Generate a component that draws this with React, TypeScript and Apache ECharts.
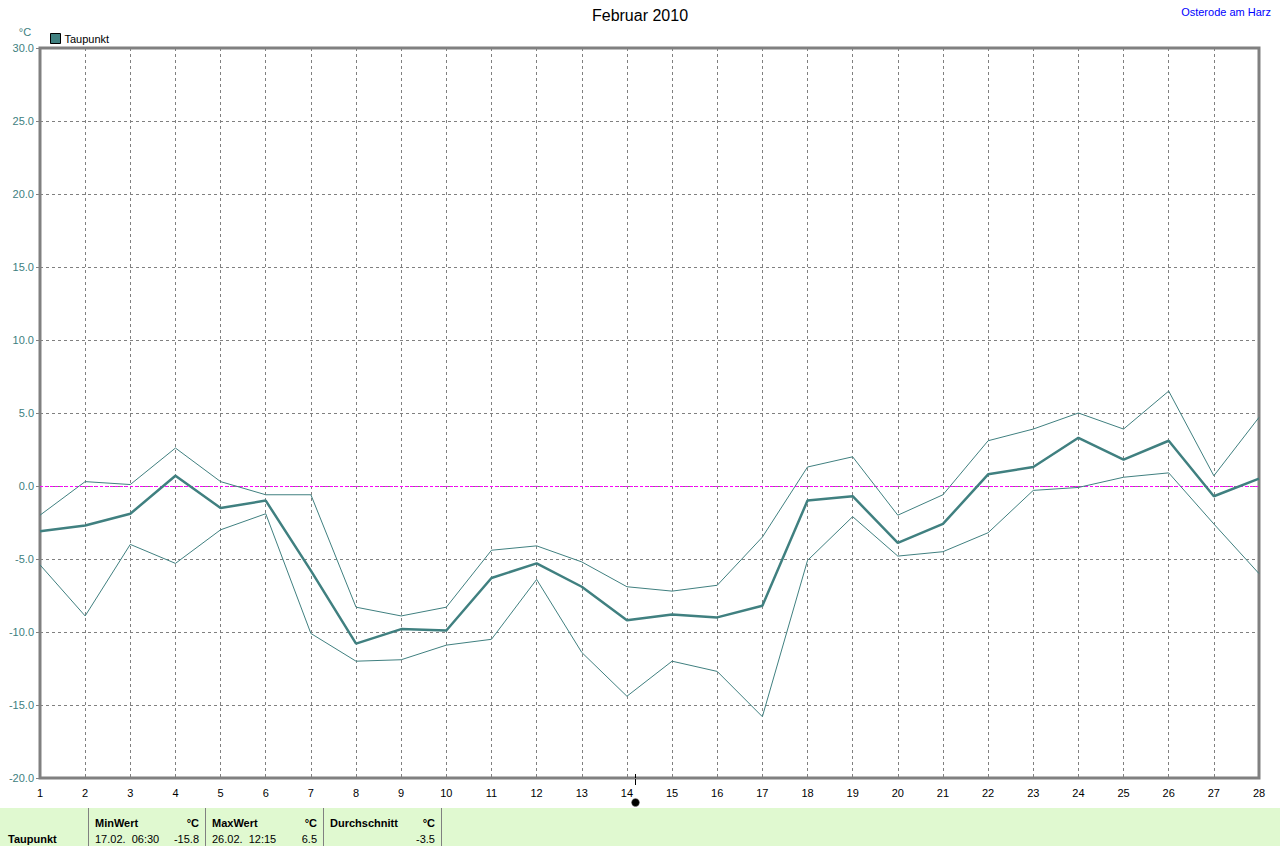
import React, { useEffect, useRef } from "react";
import * as echarts from "echarts";

const days = ["1","2","3","4","5","6","7","8","9","10","11","12","13","14","15","16","17","18","19","20","21","22","23","24","25","26","27","28"];
const taupunktMean = [-3.1, -2.7, -1.9, 0.7, -1.5, -1.0, -5.8, -10.8, -9.8, -9.9, -6.3, -5.3, -6.9, -9.2, -8.8, -9.0, -8.2, -1.0, -0.7, -3.9, -2.6, 0.8, 1.3, 3.3, 1.8, 3.1, -0.7, 0.5];
const taupunktMax = [-2.0, 0.3, 0.1, 2.6, 0.3, -0.6, -0.6, -8.3, -8.9, -8.3, -4.4, -4.1, -5.2, -6.9, -7.2, -6.8, -3.5, 1.3, 2.0, -2.0, -0.6, 3.1, 3.9, 5.0, 3.9, 6.5, 0.7, 4.7];
const taupunktMin = [-5.4, -8.9, -4.0, -5.3, -3.0, -1.9, -10.1, -12.0, -11.9, -10.9, -10.5, -6.4, -11.4, -14.4, -12.0, -12.7, -15.8, -5.1, -2.1, -4.8, -4.5, -3.2, -0.3, -0.1, 0.6, 0.9, -2.6, -6.0];
const tableHeaders = ["MinWert", "MaxWert", "Durchschnitt"];
const tableDates = ["17.02.  06:30", "26.02.  12:15", ""];
const tableValues = ["-15.8", "6.5", "-3.5"];

const TEAL = "#408080";
const FONT = "Liberation Sans, Arial, sans-serif";

export default function App() {
  const ref = useRef<HTMLDivElement>(null);
  useEffect(() => {
    if (!ref.current) return;
    const chart = echarts.init(ref.current, undefined, { renderer: "svg" });
    const colX = [88, 205, 323, 441];
    const tableGraphics: any[] = [
      { type: "rect", shape: { x: 0, y: 808, width: 1280, height: 38 }, style: { fill: "#e0f9d0" } },
      ...colX.map((x) => ({ type: "line", shape: { x1: x + 0.5, y1: 808, x2: x + 0.5, y2: 846 }, style: { stroke: "#808080", lineWidth: 1 } })),
      { type: "text", style: { text: "Taupunkt", x: 8, y: 839, font: `bold 11px ${FONT}`, fill: "#000", textVerticalAlign: "middle", verticalAlign: "middle" } },
    ];
    tableHeaders.forEach((h, i) => {
      const x0 = colX[i] + 7;
      const x1 = colX[i + 1] - 6;
      tableGraphics.push(
        { type: "text", style: { text: h, x: x0, y: 823, font: `bold 11px ${FONT}`, fill: "#000", textVerticalAlign: "middle", verticalAlign: "middle" } },
        { type: "text", style: { text: "°C", x: x1, y: 823, font: `bold 11px ${FONT}`, fill: "#000", textAlign: "right", align: "right", textVerticalAlign: "middle", verticalAlign: "middle" } },
        { type: "text", style: { text: tableDates[i], x: x0, y: 839, font: `11px ${FONT}`, fill: "#000", textVerticalAlign: "middle", verticalAlign: "middle" } },
        { type: "text", style: { text: tableValues[i], x: x1, y: 839, font: `11px ${FONT}`, fill: "#000", textAlign: "right", align: "right", textVerticalAlign: "middle", verticalAlign: "middle" } }
      );
    });

    chart.setOption({
      animation: false,
      backgroundColor: "#ffffff",
      title: {
        text: "Februar 2010",
        left: "center",
        top: 2,
        textStyle: { fontFamily: FONT, fontSize: 16, fontWeight: "normal", color: "#000" },
      },
      legend: {
        data: ["Taupunkt"],
        left: 45,
        top: 28,
        icon: "rect",
        itemWidth: 10,
        itemHeight: 10,
        itemGap: 4,
        textStyle: { fontFamily: FONT, fontSize: 11, color: "#000", padding: [0, 0, 0, -1] },
        itemStyle: { borderColor: "#000", borderWidth: 1, color: TEAL },
      },
      grid: {
        left: 40,
        right: 21,
        top: 48,
        bottom: 68,
        show: true,
        borderColor: "#808080",
        borderWidth: 3,
        backgroundColor: "transparent",
      },
      xAxis: {
        type: "category",
        data: days,
        boundaryGap: false,
        axisLine: { show: false },
        axisTick: { show: true, length: 3, lineStyle: { color: "#808080" } },
        axisLabel: { color: "#000", fontFamily: FONT, fontSize: 11, margin: 9, interval: 0 },
        splitLine: { show: true, lineStyle: { color: "#808080", type: [3, 3], width: 1 } },
      },
      yAxis: {
        type: "value",
        min: -20,
        max: 30,
        interval: 5,
        axisLine: { show: false },
        axisTick: { show: true, length: 4, lineStyle: { color: "#808080" } },
        axisLabel: {
          color: TEAL,
          fontFamily: FONT,
          fontSize: 11,
          margin: 6,
          formatter: (v: number) => v.toFixed(1),
        },
        splitLine: { show: true, lineStyle: { color: "#808080", type: [3, 3], width: 1 } },
      },
      series: [
        {
          name: "TaupunktMax",
          type: "line",
          data: taupunktMax,
          symbol: "none",
          lineStyle: { color: TEAL, width: 1 },
          itemStyle: { color: TEAL },
          z: 3,
        },
        {
          name: "TaupunktMin",
          type: "line",
          data: taupunktMin,
          symbol: "none",
          lineStyle: { color: TEAL, width: 1 },
          itemStyle: { color: TEAL },
          z: 3,
        },
        {
          name: "Taupunkt",
          type: "line",
          data: taupunktMean,
          symbol: "none",
          lineStyle: { color: TEAL, width: 2.5 },
          itemStyle: { color: TEAL },
          z: 4,
          markLine: {
            silent: true,
            symbol: "none",
            label: { show: false },
            lineStyle: { color: "#ff00ff", type: [3, 2], width: 1 },
            data: [{ yAxis: 0 }],
            z: 2,
          },
        },
      ],
      graphic: [
        { type: "text", style: { text: "°C", x: 25, y: 32, font: `11px ${FONT}`, fill: TEAL, textAlign: "center", align: "center", textVerticalAlign: "middle", verticalAlign: "middle" } },
        { type: "text", style: { text: "Osterode am Harz", x: 1271, y: 12, font: `11px ${FONT}`, fill: "#0000ff", textAlign: "right", align: "right", textVerticalAlign: "middle", verticalAlign: "middle" } },
        { type: "line", shape: { x1: 635.5, y1: 774, x2: 635.5, y2: 785 }, style: { stroke: "#000", lineWidth: 1 } },
        { type: "circle", shape: { cx: 635.5, cy: 802.5, r: 4 }, style: { fill: "#000", stroke: "#808080", lineWidth: 0.5 } },
        ...tableGraphics,
      ],
    });
    return () => chart.dispose();
  }, []);
  return <div ref={ref} style={{ position: "absolute", left: 0, top: 0, width: 1280, height: 846 }} />;
}
